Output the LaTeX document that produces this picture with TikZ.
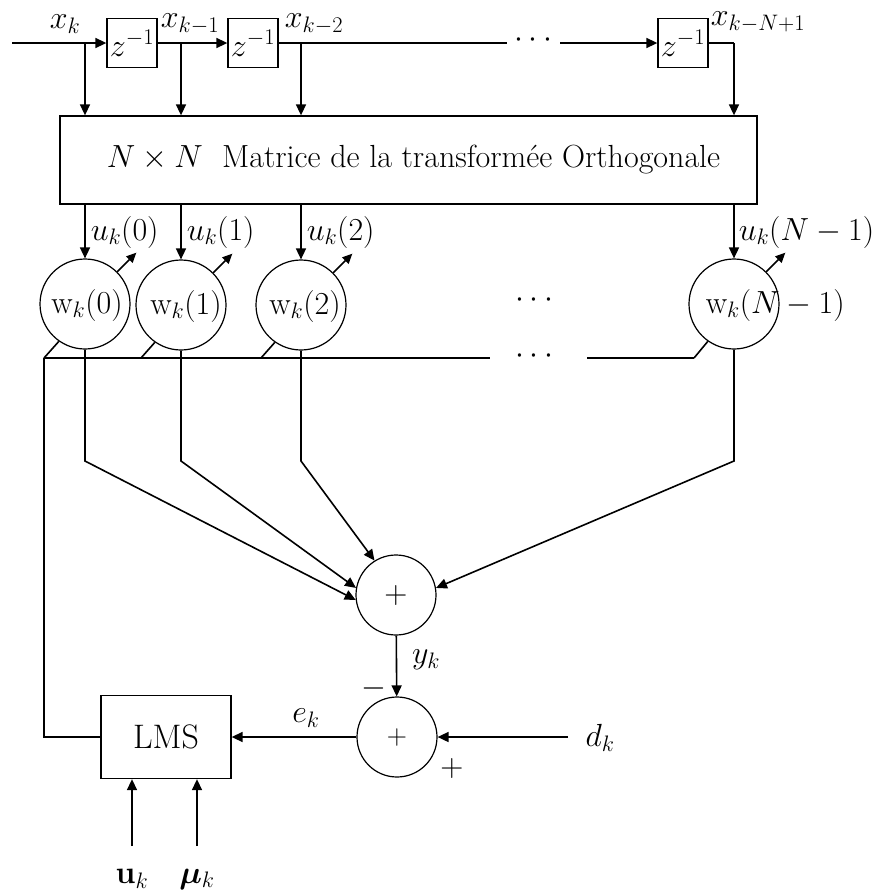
\RequirePackage{fix-cm}
\documentclass[tikz,border=0pt]{standalone}
\usepackage{amsmath,bm}
\usetikzlibrary{arrows.meta}
\definecolor{FilterInk}{gray}{0}
\tikzset{
    lms/diagram/.style={
        x=1pt, y=-1pt,
        font=\fontsize{32}{36}\selectfont,
        draw=FilterInk,
        text=FilterInk,
        line width=1.5pt,
        every node/.style={inner sep=1pt}
    },
    lms/line/.style={draw=FilterInk, line width=1.6pt},
    lms/signal/.style={lms/line, -{Triangle[length=11pt, width=10pt]}},
    lms/update/.style={lms/line, -{Triangle[length=10pt, width=9pt]}},
    lms/block/.style={rectangle, draw=FilterInk, line width=1.3pt, inner sep=0pt},
    lms/delay/.style={lms/block, minimum width=50pt, minimum height=49pt},
    lms/weight/.style={circle, draw=FilterInk, line width=1.2pt, minimum size=90pt, inner sep=0pt},
    lms/adder/.style={circle, draw=FilterInk, line width=1.2pt, minimum size=80pt, inner sep=0pt}
}

\begin{document}
\begin{tikzpicture}[lms/diagram]
    \useasboundingbox (0,0) rectangle (879,895);

    % Delay line.
    \coordinate (in) at (12,43);
    \node[lms/delay] (d1) at (132,43) {$z^{-1}$};
    \node[lms/delay] (d2) at (253,43) {$z^{-1}$};
    \node[lms/delay] (d3) at (683,43) {$z^{-1}$};
    \coordinate (t0) at (85,43);
    \coordinate (t1) at (181,43);
    \coordinate (t2) at (301,43);
    \coordinate (t3) at (734,43);
    \coordinate (gapL) at (507,43);
    \coordinate (gapR) at (560,43);
    \node (topdots) at (536,40) {$\cdots$};
    \draw[lms/signal] (in) -- (d1);
    \draw[lms/signal] (d1) -- (d2);
    \draw[lms/line] (d2) -- (gapL);
    \draw[lms/signal] (gapR) -- (d3);
    \node (x0) at (65,24) {$x_k$};
    \node (x1) at (190,24) {$x_{k-1}$};
    \node (x2) at (314,24) {$x_{k-2}$};
    \node (x3) at (758,22) {$x_{k-N+1}$};

    % Orthogonal transform.
    \node[lms/block, minimum width=697pt, minimum height=88pt] (T) at (408.5,160)
        {\hspace{10pt}$N\times N$\ \ Matrice de la transformée Orthogonale};
    \draw[lms/signal] (t0) -- (T.north -| t0);
    \draw[lms/signal] (t1) -- (T.north -| t1);
    \draw[lms/signal] (t2) -- (T.north -| t2);
    \draw[lms/line] (d3) -- (t3);
    \draw[lms/signal] (t3) -- (T.north -| t3);

    % Weights.
    \node[lms/weight] (w0) at (85,304) {};
    \node[lms/weight] (w1) at (181,305) {};
    \node[lms/weight] (w2) at (301,305) {};
    \node[lms/weight] (w3) at (734,304) {};
    \node (w0txt) at (87,305) {$\mathrm{w}_k(0)$};
    \node (w1txt) at (186,306) {$\mathrm{w}_k(1)$};
    \node (w2txt) at (305,306) {$\mathrm{w}_k(2)$};
    \node[anchor=west] (w3txt) at (704,305) {$\mathrm{w}_k(N-1)$};
    \node (wdots) at (537,300) {$\cdots$};
    \foreach \w in {w0,w1,w2,w3} {
        \draw[lms/signal] (T.south -| \w) -- (\w);
        \coordinate (\w up) at ([shift={(45:27pt)}]\w.45);
        \draw[lms/update] (\w.45) -- (\w up);
    }
    \node[anchor=west] (u0) at (89,232) {$u_k(0)$};
    \node[anchor=west] (u1) at (185,232) {$u_k(1)$};
    \node[anchor=west] (u2) at (305,232) {$u_k(2)$};
    \node[anchor=west] (u3) at (737,232) {$u_k(N-1)$};

    % Update bus.
    \coordinate (b0) at (44,358);
    \coordinate (b1) at (141,358);
    \coordinate (b2) at (261,358);
    \coordinate (b3) at (694,358);
    \coordinate (busL) at (490,358);
    \coordinate (busR) at (587,358);
    \node (busdots) at (537,356) {$\cdots$};
    \draw[lms/line] (b0) -- (busL);
    \draw[lms/line] (busR) -- (b3);
    \draw[lms/line] (w0.235) -- (b0);
    \draw[lms/line] (w1.235) -- (b1);
    \draw[lms/line] (w2.235) -- (b2);
    \draw[lms/line] (w3.235) -- (b3);

    % Output sum.
    \node[lms/adder] (sum) at (396,595) {$+$};
    \coordinate (k0) at (85,461);
    \coordinate (k1) at (181,461);
    \coordinate (k2) at (301,461);
    \coordinate (k3) at (734,461);
    \draw[lms/signal] (w0) -- (k0) -- (sum.187);
    \draw[lms/signal] (w1) -- (k1) -- (sum.170);
    \draw[lms/signal] (w2) -- (k2) -- (sum.122);
    \draw[lms/signal] (w3) -- (k3) -- (sum.10);

    % Error and LMS update.
    \node[lms/adder, font=\fontsize{28}{32}\selectfont] (err) at (397,737) {$+$};
    \draw[lms/signal] (sum) -- (err);
    \node (yk) at (426,660) {$y_k$};
    \node (minus) at (374,688) {$-$};
    \node (plus) at (452,768) {$+$};
    \coordinate (dIn) at (568,737);
    \node (dk) at (600,738) {$d_k$};
    \draw[lms/signal] (dIn) -- (err);
    \node[lms/block, minimum width=130pt, minimum height=83pt,
          font=\fontsize{34}{38}\selectfont] (lms) at (166,737) {LMS};
    \draw[lms/signal] (err) -- (lms);
    \node (ek) at (306,718) {$e_k$};
    \coordinate (fb) at (44,737);
    \draw[lms/line] (b0) -- (fb) -- (lms);
    \coordinate (uIn) at (132,846);
    \coordinate (muIn) at (197,846);
    \draw[lms/signal] (uIn) -- (lms.south -| uIn);
    \draw[lms/signal] (muIn) -- (lms.south -| muIn);
    \node (uk) at (132,879) {$\mathbf{u}_k$};
    \node (muk) at (197,879) {$\bm{\mu}_k$};
\end{tikzpicture}
\end{document}
